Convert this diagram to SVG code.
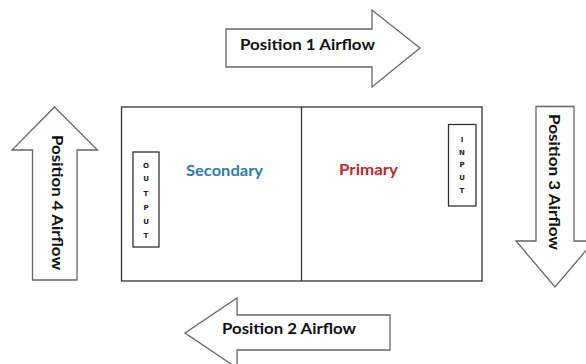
<svg xmlns="http://www.w3.org/2000/svg" width="586" height="364" viewBox="0 0 586 364">
<style>
.box{fill:#fff;stroke:#333;stroke-width:1.3}
.arrow{fill:#fff;stroke:#666;stroke-width:1.3;stroke-linejoin:miter}
.lbl{font-family:Lato,"Liberation Sans",sans-serif;font-weight:bold;font-size:15px;fill:#111}
.zone{font-family:Lato,"Liberation Sans",sans-serif;font-weight:bold;font-size:16px}
.port{font-family:"DejaVu Sans","Liberation Sans",sans-serif;font-weight:bold;font-size:7px;fill:#222;text-anchor:middle}
</style>
<rect width="586" height="364" fill="#fff"/>
<g id="unit">
<rect class="box" x="121.5" y="107" width="360.5" height="174"/>
<line x1="301.5" y1="107" x2="301.5" y2="281" stroke="#333" stroke-width="1.3"/>
</g>
<g id="secondary">
<text class="zone" x="186" y="175.5" fill="#2f7bab" textLength="77" lengthAdjust="spacingAndGlyphs">Secondary</text>
</g>
<g id="primary">
<text class="zone" x="339" y="175" fill="#c0282d" textLength="59" lengthAdjust="spacingAndGlyphs">Primary</text>
</g>
<g id="output">
<rect class="box" x="133" y="152" width="26" height="95"/>
<text class="port" x="146" y="168">O</text>
<text class="port" x="146" y="181">U</text>
<text class="port" x="146" y="196">T</text>
<text class="port" x="146" y="210">P</text>
<text class="port" x="146" y="224">U</text>
<text class="port" x="146" y="238">T</text>
</g>
<g id="input">
<rect class="box" x="448.5" y="124.5" width="27.5" height="81.5"/>
<text class="port" x="462" y="142">I</text>
<text class="port" x="462" y="155">N</text>
<text class="port" x="462" y="167">P</text>
<text class="port" x="462" y="180">U</text>
<text class="port" x="462" y="193">T</text>
</g>
<g id="connectors">
<g id="position1">
<path class="arrow" d="M226,29 H372 V10 L420,48 L372,87 V67 H226 Z"/>
<text class="lbl" x="240" y="50" textLength="135" lengthAdjust="spacingAndGlyphs">Position 1 Airflow</text>
</g>
<g id="position2">
<path class="arrow" d="M390,315 H237 V298 L185,333 L237,368 V350 H390 Z"/>
<text class="lbl" x="222" y="334" textLength="134" lengthAdjust="spacingAndGlyphs">Position 2 Airflow</text>
</g>
<g id="position3">
<path class="arrow" d="M536,106.5 H574 V241 H594 L555,287 L516,241 H536 Z"/>
<text class="lbl" transform="translate(549,114) rotate(90)" x="0" y="0" textLength="136" lengthAdjust="spacingAndGlyphs">Position 3 Airflow</text>
</g>
<g id="position4">
<path class="arrow" d="M32.5,280 V150 H12 L54.5,107 L97.5,150 H77 V280 Z"/>
<text class="lbl" transform="translate(52,135) rotate(90)" x="0" y="0" textLength="135" lengthAdjust="spacingAndGlyphs">Position 4 Airflow</text>
</g>
</g>
</svg>
